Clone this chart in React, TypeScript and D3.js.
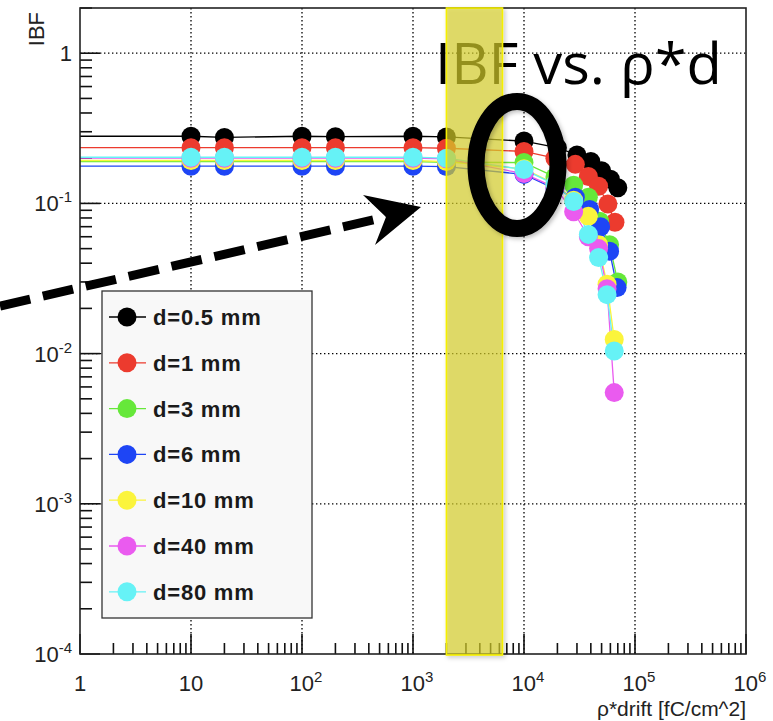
import React from "react";
import * as d3 from "d3";

const W = 773;
const H = 721;
const frame = { left: 80, top: 8, right: 746, bottom: 654 };

// ρ*drift values shared by all gaps below 10^4 fC/cm^2
const xLow = [10, 20, 100, 200, 1000, 2000];

const xHighD05 = [1e4, 2e4, 3e4, 4e4, 5e4, 6e4, 7e4];
const xHighD1 = [1e4, 1.9e4, 2.9e4, 3.8e4, 4.7e4, 5.7e4, 6.6e4];
const xHighD3 = [1e4, 1.9e4, 2.8e4, 3.8e4, 4.8e4, 5.9e4, 7e4];
const xHighD6 = [1e4, 1.9e4, 2.9e4, 3.9e4, 4.9e4, 5.9e4, 6.9e4];
const xHighD10 = [1e4, 1.9e4, 2.8e4, 3.8e4, 4.7e4, 5.6e4, 6.5e4];
const xHighD40 = [1e4, 1.9e4, 2.8e4, 3.8e4, 4.7e4, 5.6e4, 6.5e4];
const xHighD80 = [1e4, 1.9e4, 2.8e4, 3.8e4, 4.7e4, 5.6e4, 6.5e4];

const ibfD05 = [0.28, 0.275, 0.28, 0.278, 0.28, 0.277, 0.26, 0.235, 0.21, 0.19, 0.165, 0.145, 0.127];
const ibfD1 = [0.235, 0.235, 0.235, 0.235, 0.235, 0.233, 0.222, 0.2, 0.182, 0.151, 0.13, 0.099, 0.075];
const ibfD3 = [0.19, 0.19, 0.19, 0.19, 0.19, 0.188, 0.187, 0.15, 0.132, 0.11, 0.076, 0.053, 0.03];
const ibfD6 = [0.177, 0.177, 0.177, 0.177, 0.177, 0.176, 0.156, 0.125, 0.11, 0.091, 0.07, 0.048, 0.0275];
const ibfD10 = [0.193, 0.193, 0.193, 0.193, 0.193, 0.19, 0.17, 0.135, 0.105, 0.082, 0.053, 0.029, 0.0124];
const ibfD40 = [0.2, 0.2, 0.2, 0.2, 0.2, 0.198, 0.158, 0.128, 0.088, 0.06, 0.05, 0.027, 0.0055];
const ibfD80 = [0.203, 0.203, 0.203, 0.203, 0.203, 0.2, 0.168, 0.134, 0.103, 0.0622, 0.0437, 0.0247, 0.0104];

const seriesLabels = ["d=0.5 mm", "d=1 mm", "d=3 mm", "d=6 mm", "d=10 mm", "d=40 mm", "d=80 mm"];
const seriesColors = ["#000000", "#ec3b2e", "#66e83a", "#1e45f5", "#fbf43c", "#ea5bef", "#66f2f6"];
const seriesX = [xHighD05, xHighD1, xHighD3, xHighD6, xHighD10, xHighD40, xHighD80].map((h) => [...xLow, ...h]);
const seriesY = [ibfD05, ibfD1, ibfD3, ibfD6, ibfD10, ibfD40, ibfD80];

const xDecades = [0, 1, 2, 3, 4, 5, 6];
const yDecades = [-4, -3, -2, -1, 0];

// highlighted ρ*drift band
const bandRange = [2000, 6400];

const rootFont = "'Liberation Sans', Arial, Helvetica, sans-serif";

function PowLabel({ x, y, exp, anchor }: { x: number; y: number; exp: number; anchor: string }) {
  const common = { x, y, textAnchor: anchor, fontSize: 22, fontFamily: rootFont, fill: "#222" } as any;
  if (exp === 0) return <text {...common}>1</text>;
  if (exp === 1) return <text {...common}>10</text>;
  return (
    <text {...common}>
      10
      <tspan fontSize={15} dy={-9}>
        {String(exp)}
      </tspan>
    </text>
  );
}

export default function App() {
  const x = d3.scaleLog().domain([1, 1e6]).range([frame.left, frame.right]);
  const y = d3.scaleLog().domain([1e-4, 2]).range([frame.bottom, frame.top]);

  const line = d3
    .line<[number, number]>()
    .x((d) => x(d[0]))
    .y((d) => y(d[1]));

  const xMinor: number[] = [];
  for (let e = 0; e < 6; e++) for (let k = 2; k <= 9; k++) xMinor.push(k * Math.pow(10, e));
  const yMinor: number[] = [];
  for (let e = -4; e < 0; e++) for (let k = 2; k <= 9; k++) yMinor.push(k * Math.pow(10, e));
  yMinor.push(2);

  const legend = { x: 102, y: 291, w: 210, h: 327, row0: 317, step: 45.8 };

  return (
    <svg
      width={W}
      height={H}
      style={{ position: "absolute", left: 0, top: 0, background: "#fff" }}
      xmlns="http://www.w3.org/2000/svg"
    >
      <defs>
        <clipPath id="frameClip">
          <rect x={frame.left} y={frame.top} width={frame.right - frame.left} height={frame.bottom - frame.top} />
        </clipPath>
        <filter id="soft" x="-20%" y="-20%" width="140%" height="140%">
          <feDropShadow dx="2" dy="2" stdDeviation="2" floodColor="#000" floodOpacity="0.25" />
        </filter>
      </defs>

      <rect width={W} height={H} fill="#fff" />

      {/* grid */}
      <g stroke="#000" strokeWidth={1.3} strokeDasharray="1.4 2.6">
        {xDecades.slice(1, -1).map((e) => (
          <line key={"gx" + e} x1={x(Math.pow(10, e))} x2={x(Math.pow(10, e))} y1={frame.top} y2={frame.bottom} />
        ))}
        {yDecades.slice(1).map((e) => (
          <line key={"gy" + e} x1={frame.left} x2={frame.right} y1={y(Math.pow(10, e))} y2={y(Math.pow(10, e))} />
        ))}
      </g>

      {/* ticks */}
      <g stroke="#111" strokeWidth={1.6}>
        {xDecades.map((e) => (
          <line key={"tx" + e} x1={x(Math.pow(10, e))} x2={x(Math.pow(10, e))} y1={frame.bottom} y2={frame.bottom - 20} />
        ))}
        {xMinor.map((v) => (
          <line key={"mx" + v} x1={x(v)} x2={x(v)} y1={frame.bottom} y2={frame.bottom - 11} />
        ))}
        {yDecades.map((e) => (
          <line key={"ty" + e} x1={frame.left} x2={frame.left + 20} y1={y(Math.pow(10, e))} y2={y(Math.pow(10, e))} />
        ))}
        {yMinor.map((v) => (
          <line key={"my" + v} x1={frame.left} x2={frame.left + 12} y1={y(v)} y2={y(v)} />
        ))}
      </g>

      {/* series */}
      <g clipPath="url(#frameClip)">
        {seriesY.map((ys, i) => {
          const pts: [number, number][] = seriesX[i].map((xv, j) => [xv, ys[j]]);
          const withStart: [number, number][] = [[1, ys[0]], ...pts];
          return (
            <path key={"l" + i} d={line(withStart) || ""} fill="none" stroke={seriesColors[i]} strokeWidth={1.3} />
          );
        })}
        {seriesY.map((ys, i) => (
          <g key={"m" + i} fill={seriesColors[i]}>
            {seriesX[i].map((xv, j) => (
              <circle key={j} cx={x(xv)} cy={y(ys[j])} r={9.5} />
            ))}
          </g>
        ))}
      </g>

      {/* frame */}
      <rect
        x={frame.left}
        y={frame.top}
        width={frame.right - frame.left}
        height={frame.bottom - frame.top}
        fill="none"
        stroke="#222"
        strokeWidth={1.6}
      />

      {/* tick labels */}
      {xDecades.map((e) => (
        <PowLabel key={"lx" + e} x={x(Math.pow(10, e)) + (e > 1 ? 4 : 0)} y={691} exp={e} anchor="middle" />
      ))}
      {yDecades.map((e) => (
        <PowLabel key={"ly" + e} x={72} y={y(Math.pow(10, e)) + 8} exp={e} anchor="end" />
      ))}

      {/* axis titles */}
      <text
        transform={`translate(44, ${frame.top + 4}) rotate(-90)`}
        textAnchor="end"
        fontSize={22}
        fontFamily={rootFont}
        fill="#222"
      >
        IBF
      </text>
      <text x={frame.right} y={716} textAnchor="end" fontSize={21} fontFamily={rootFont} fill="#222">
        ρ*drift [fC/cm^2]
      </text>

      {/* legend */}
      <rect x={legend.x} y={legend.y} width={legend.w} height={legend.h} fill="#f8f8f8" stroke="#333" strokeWidth={1.3} />
      {seriesLabels.map((lab, i) => {
        const cy = legend.row0 + i * legend.step;
        return (
          <g key={"leg" + i}>
            <line x1={109} x2={146} y1={cy} y2={cy} stroke={seriesColors[i]} strokeWidth={1.3} />
            <circle cx={127} cy={cy} r={9.5} fill={seriesColors[i]} />
            <text x={153} y={cy + 8} fontSize={22} fontWeight="bold" letterSpacing={0.8} fontFamily={rootFont} fill="#1a1a1a">
              {lab}
            </text>
          </g>
        );
      })}

      {/* title */}
      <text x={435} y={84} fontSize={57} fontFamily="'Open Sans', 'Noto Sans', sans-serif" fill="#000" textLength={287} lengthAdjust="spacingAndGlyphs">
        IBF vs. ρ*d
      </text>

      {/* highlighted band */}
      <rect
        x={x(bandRange[0])}
        y={frame.top}
        width={x(bandRange[1]) - x(bandRange[0])}
        height={frame.bottom - frame.top + 1}
        fill="#d8d22a"
        fillOpacity={0.65}
        stroke="#f5ef00"
        strokeWidth={1.6}
        filter="url(#soft)"
      />

      {/* ring marker */}
      <ellipse cx={517} cy={165} rx={41} ry={63.5} fill="none" stroke="#000" strokeWidth={17} filter="url(#soft)" />

      {/* dashed pointer */}
      <line x1={0} y1={306} x2={386} y2={217} stroke="#000" strokeWidth={9} strokeDasharray="31 13" />
      <path d="M 421 207 L 363 195 L 386 217 L 375 245 Z" fill="#000" />
    </svg>
  );
}
